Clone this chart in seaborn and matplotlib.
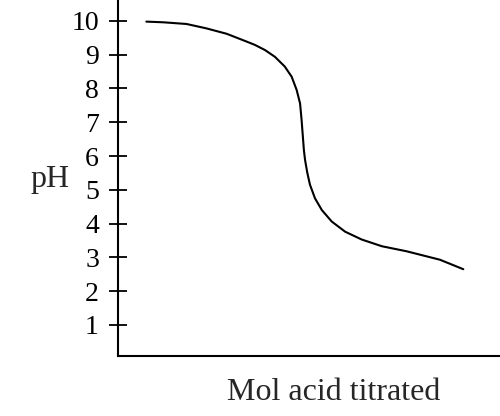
# titration curve: pH vs mol acid titrated
import numpy as np
import pandas as pd
import matplotlib
matplotlib.use('Agg')
import matplotlib.pyplot as plt
import seaborn as sns

# data (x in arbitrary mol units, axis spans 0..10)
mol_acid = [0.75, 1.19, 1.80, 2.32, 2.85, 3.37, 3.59, 3.85, 4.11, 4.37,
            4.55, 4.68, 4.77, 4.81, 4.83, 4.85, 4.87, 4.90, 4.96, 5.03,
            5.16, 5.34, 5.60, 5.95, 6.38, 6.91, 7.56, 8.43, 9.04]
ph_values = [9.98, 9.96, 9.91, 9.78, 9.62, 9.39, 9.29, 9.14, 8.94, 8.65,
             8.35, 7.96, 7.56, 7.07, 6.77, 6.48, 6.18, 5.89, 5.50, 5.15,
             4.75, 4.40, 4.06, 3.76, 3.53, 3.33, 3.18, 2.93, 2.65]
ph_ticks = [1, 2, 3, 4, 5, 6, 7, 8, 9, 10]

df = pd.DataFrame({'mol': mol_acid, 'pH': ph_values})

# style
sns.set_style('ticks')
plt.rcParams['font.family'] = ['Liberation Serif', 'DejaVu Serif']

fig = plt.figure(figsize=(5.0, 4.16), dpi=100)
ax = fig.add_axes([0.2354, 0.145, 0.7646, 0.855])

# drawing the curve
sns.lineplot(data=df, x='mol', y='pH', color='black', linewidth=1.5,
             sort=False, ax=ax)

ax.set_xlim(0, 10)
ax.set_ylim(0.09, 10.62)

# spines
sns.despine(ax=ax)
for side in ['left', 'bottom']:
    ax.spines[side].set_linewidth(1.5)
    ax.spines[side].set_color('black')

# ticks
ax.set_xticks([])
ax.set_yticks(ph_ticks)
ax.tick_params(axis='y', direction='inout', length=13, width=1.3,
               labelsize=20, pad=7, colors='black')

# labels
ax.set_xlabel('Mol acid titrated', fontsize=23, va='baseline')
ax.xaxis.set_label_coords(0.5645, -0.1245)
ax.set_ylabel('pH', fontsize=23, rotation=0, ha='center', va='baseline')
ax.yaxis.set_label_coords(-0.177, 0.474)

fig.savefig('out.png', dpi=100)
